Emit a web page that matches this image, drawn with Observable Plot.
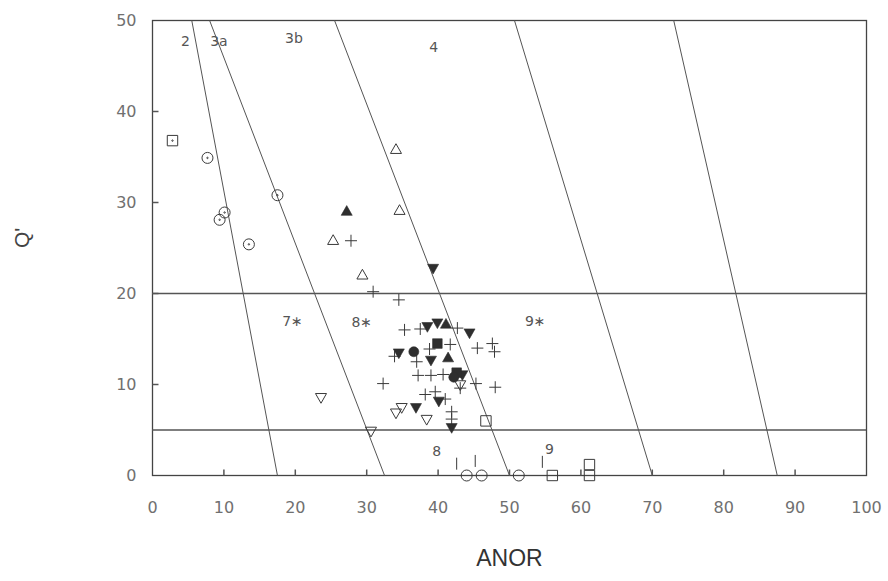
<!DOCTYPE html>
<html><head><meta charset="utf-8">
<script src="https://cdn.jsdelivr.net/npm/d3@7"></script>
<script src="https://cdn.jsdelivr.net/npm/@observablehq/plot@0.6"></script>
<style>
html,body{margin:0;padding:0;background:#fff;}
#chart{width:888px;height:581px;overflow:hidden;}
</style></head><body><div id="chart"></div>
<script>
// ---- axes ----
const xTicks = [0,10,20,30,40,50,60,70,80,90,100];
const yTicks = [0,10,20,30,40,50];
const innerXTicks = [10,20,30,40,50,60,70,80,90];
const innerYTicks = [10,20,30,40];
const qMin = 0, qMax = 50;

// ---- field boundaries (ANOR at Q'=50 and at Q'=0) ----
const boundaryTopAnor = [5.5, 8, 25.5, 50.7, 73];
const boundaryBottomAnor = [17.5, 32.5, 50, 70, 87.5];
const qDivides = [5, 20];

// ---- field labels ----
const fieldNames = ["2", "3a", "3b", "4", "7\u2217", "8\u2217", "9\u2217", "8", "9"];
const fieldAnor  = [4.6, 9.3, 19.8, 39.4, 19.6, 29.3, 53.6, 39.8, 55.6];
const fieldQ     = [47.7, 47.7, 48.0, 47.0, 16.9, 16.8, 16.9, 2.6, 2.9];

// ---- samples [ANOR, Q'] ----
const plusPts = [[27.8,25.8],[30.9,20.2],[34.5,19.3],[35.3,16.0],[37.5,16.1],[42.7,16.2],
  [33.9,13.1],[38.8,13.9],[41.7,14.4],[45.5,14.0],[47.6,14.5],[47.9,13.6],[32.3,10.1],
  [37.2,11.0],[39.0,11.0],[40.7,11.1],[45.3,10.1],[48.0,9.7],[38.2,8.9],[39.6,9.2],
  [41.0,8.4],[43.1,9.6],[41.9,7.0],[41.9,6.2],[37.0,12.5]];
const filledDownPts = [[38.5,16.4],[39.9,16.8],[44.4,15.7],[34.5,13.5],[39.0,12.7],
  [43.4,11.1],[40.1,8.2],[36.9,7.5],[41.9,5.3],[39.3,22.8]];
const filledUpPts = [[27.2,29.0],[41.1,16.6],[41.4,12.9]];
const filledSquarePts = [[39.9,14.5],[42.6,11.3]];
const filledCirclePts = [[36.6,13.6],[42.2,10.8]];
const openDownPts = [[23.6,8.6],[30.6,4.9],[34.1,6.9],[34.9,7.5],[38.4,6.2],[43.1,10.0]];
const openUpPts = [[34.1,35.8],[34.6,29.1],[25.3,25.8],[29.4,22.0]];
const openSquarePts = [[46.7,6.0],[56.0,0],[61.2,1.2],[61.2,0]];
const openCirclePts = [[44.0,0],[46.1,0],[51.3,0]];
const barPts = [[42.6,1.3],[45.2,1.6],[54.6,1.5]];
const squareDotPts = [[2.8,36.8]];
const circleDotPts = [[7.7,34.9],[17.5,30.8],[10.1,28.9],[9.4,28.1],[13.5,25.4]];

// ---- custom symbols (size = pi r^2) ----
const sym = f => ({draw(ctx, size){ const r = Math.sqrt(size / Math.PI); f(ctx, r); }});
const triUp = sym((c,r)=>{c.moveTo(0,-r); c.lineTo(r*0.92,r*0.62); c.lineTo(-r*0.92,r*0.62); c.closePath();});
const triDown = sym((c,r)=>{c.moveTo(0,r); c.lineTo(r*0.92,-r*0.62); c.lineTo(-r*0.92,-r*0.62); c.closePath();});
const square = sym((c,r)=>{c.rect(-r*0.8,-r*0.8,r*1.6,r*1.6);});
const squareDot = sym((c,r)=>{c.rect(-r*0.8,-r*0.8,r*1.6,r*1.6); c.moveTo(0.7,0); c.arc(0,0,0.7,0,2*Math.PI);});
const circle = sym((c,r)=>{c.moveTo(r,0); c.arc(0,0,r,0,2*Math.PI);});
const circleDot = sym((c,r)=>{c.moveTo(r,0); c.arc(0,0,r,0,2*Math.PI); c.moveTo(0.7,0); c.arc(0,0,0.7,0,2*Math.PI);});
const plus = sym((c,r)=>{c.moveTo(-r,0); c.lineTo(r,0); c.moveTo(0,-r); c.lineTo(0,r);});
const bar = sym((c,r)=>{c.moveTo(0,-r); c.lineTo(0,r);});
const tickUp = sym((c,r)=>{c.moveTo(0,0); c.lineTo(0,-r);});
const tickRight = sym((c,r)=>{c.moveTo(0,0); c.lineTo(r,0);});

const P = d => d[0], Q = d => d[1];
const ink = "#3a3a3a";
const openDot = (data, symbol, r) => Plot.dot(data, {x: P, y: Q, symbol, r, fill: "none", stroke: ink, strokeWidth: 1});
const fillDot = (data, symbol, r) => Plot.dot(data, {x: P, y: Q, symbol, r, fill: "#2e2e2e", stroke: "#2e2e2e", strokeWidth: 0.6});

const boundaries = boundaryTopAnor.map((t, i) => ({x1: t, y1: qMax, x2: boundaryBottomAnor[i], y2: qMin}));
const fields = fieldNames.map((n, i) => ({n, x: fieldAnor[i], y: fieldQ[i]}));
const tickFont = "'DejaVu Sans', Verdana, sans-serif";

const chart = Plot.plot({
  width: 888, height: 581,
  marginLeft: 152, marginRight: 22, marginTop: 20, marginBottom: 106,
  x: {domain: [0, 100]},
  y: {domain: [qMin, qMax]},
  style: {fontFamily: "'Liberation Sans', Arial, sans-serif", background: "#fff"},
  marks: [
    Plot.frame({stroke: "#444", strokeWidth: 1.3}),
    Plot.ruleY(qDivides, {stroke: "#555", strokeWidth: 1.5}),
    Plot.link(boundaries, {x1: "x1", y1: "y1", x2: "x2", y2: "y2", stroke: "#555", strokeWidth: 1}),
    Plot.dot(innerXTicks, {x: d => d, y: () => qMin, symbol: tickUp, r: 6, fill: "none", stroke: "#555"}),
    Plot.dot(innerYTicks, {x: () => 0, y: d => d, symbol: tickRight, r: 6, fill: "none", stroke: "#555"}),
    Plot.axisX(xTicks, {tickSize: 0, tickPadding: 26, fontSize: 16, fontFamily: tickFont, fill: "#707070", label: null}),
    Plot.axisY(yTicks, {tickSize: 0, tickPadding: 16, fontSize: 16, fontFamily: tickFont, fill: "#707070", label: null}),
    Plot.text(fields, {x: "x", y: "y", text: "n", fontSize: 14, fontFamily: tickFont, fill: "#555"}),
    openDot(plusPts, plus, 6),
    openDot(openDownPts, triDown, 6),
    openDot(openUpPts, triUp, 6),
    openDot(openSquarePts, square, 6.5),
    openDot(openCirclePts, circle, 5.5),
    openDot(barPts, bar, 6),
    openDot(squareDotPts, squareDot, 6.5),
    openDot(circleDotPts, circleDot, 5.5),
    fillDot(filledDownPts, triDown, 6),
    fillDot(filledUpPts, triUp, 6),
    fillDot(filledSquarePts, square, 6),
    fillDot(filledCirclePts, circle, 5),
    Plot.text(["ANOR"], {frameAnchor: "bottom", dy: 90, fontSize: 23, fill: "#333"}),
    Plot.text(["Q'"], {frameAnchor: "left", dx: -130, rotate: -90, fontSize: 21, fill: "#444"})
  ]
});
document.getElementById("chart").appendChild(chart);
</script>
</body></html>
